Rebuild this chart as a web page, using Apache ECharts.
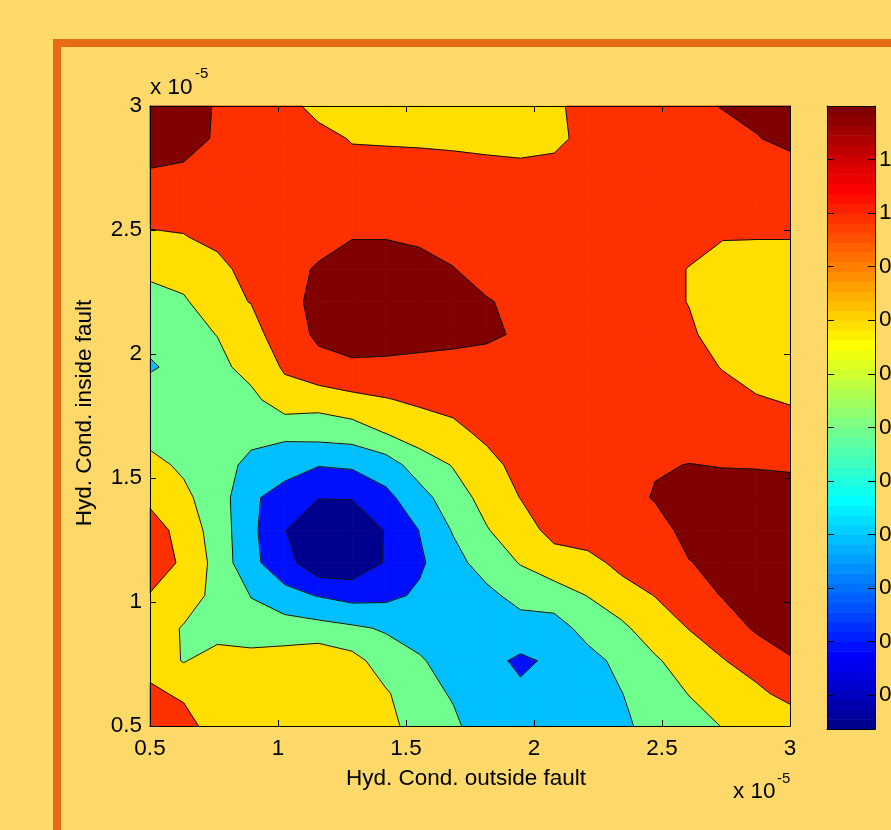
<!DOCTYPE html>
<html>
<head>
<meta charset="utf-8">
<script src="https://cdn.jsdelivr.net/npm/echarts@6/dist/echarts.min.js"></script>
<style>
html,body{margin:0;padding:0;background:#FDD96A;}
#chart{width:891px;height:830px;}
</style>
</head>
<body>
<div id="chart"></div>
<script>
// ---- data ----
// grid coordinates, in units of 1e-5
const xGrid = [0.5, 0.6316, 0.7632, 0.8947, 1.0263, 1.1579, 1.2895, 1.4211, 1.5526, 1.6842,
               1.8158, 1.9474, 2.0789, 2.2105, 2.3421, 2.4737, 2.6053, 2.7368, 2.8684, 3.0];
// rows of zGrid go from top (y = 3) to bottom (y = 0.5)
const yGrid = [3.0, 2.8684, 2.7368, 2.6053, 2.4737, 2.3421, 2.2105, 2.0789, 1.9474, 1.8158,
               1.6842, 1.5526, 1.4211, 1.2895, 1.1579, 1.0263, 0.8947, 0.7632, 0.6316, 0.5];
const zGrid = [
  [1.3, 1.3, 1.18, 1.1, 1.1, 0.9, 0.9, 0.88, 0.88, 0.88, 0.86, 0.86, 0.95, 1.1, 1.1, 1.1, 1.1, 1.22, 1.3, 1.32],
  [1.3, 1.3, 1.17, 1.1, 1.1, 1.1, 0.98, 0.97, 0.96, 0.94, 0.9, 0.88, 0.92, 1.1, 1.1, 1.1, 1.1, 1.05, 1.18, 1.3],
  [1.19, 1.16, 1.1, 1.1, 1.1, 1.1, 1.1, 1.1, 1.1, 1.1, 1.1, 1.08, 1.1, 1.1, 1.1, 1.1, 1.1, 1.1, 1.1, 1.04],
  [1.1, 1.1, 1.1, 1.12, 1.12, 1.12, 1.14, 1.14, 1.12, 1.12, 1.12, 1.12, 1.1, 1.1, 1.1, 1.1, 1.1, 1.08, 1.06, 1.06],
  [0.97, 0.99, 1.07, 1.1, 1.1, 1.1, 1.19, 1.19, 1.15, 1.1, 1.1, 1.1, 1.1, 1.1, 1.1, 1.1, 1.1, 1.01, 1.01, 1.01],
  [0.86, 0.9, 0.92, 1.1, 1.1, 1.23, 1.3, 1.3, 1.3, 1.21, 1.09, 1.1, 1.1, 1.1, 1.1, 1.1, 0.99, 0.93, 0.9, 0.9],
  [0.7, 0.77, 0.95, 1.005, 1.1, 1.28, 1.35, 1.35, 1.35, 1.3, 1.22, 1.13, 1.1, 1.1, 1.1, 1.1, 0.99, 0.9, 0.88, 0.88],
  [0.64, 0.73, 0.805, 0.92, 1.12, 1.227, 1.3, 1.3, 1.3, 1.28, 1.24, 1.17, 1.1, 1.1, 1.1, 1.1, 1.05, 0.86, 0.85, 0.86],
  [0.585, 0.64, 0.74, 0.88, 1.02, 1.15, 1.16, 1.15, 1.12, 1.1, 1.1, 1.1, 1.1, 1.1, 1.1, 1.1, 1.08, 0.99, 0.9, 0.88],
  [0.67, 0.7, 0.7, 0.74, 0.93, 0.88, 0.95, 0.99, 1.03, 1.1, 1.1, 1.1, 1.1, 1.1, 1.1, 1.1, 1.1, 1.08, 1.02, 0.98],
  [0.74, 0.72, 0.7, 0.66, 0.64, 0.68, 0.7, 0.81, 0.9, 0.92, 1.07, 1.1, 1.1, 1.1, 1.1, 1.1, 1.1, 1.1, 1.1, 1.1],
  [0.85, 0.77, 0.68, 0.55, 0.5, 0.41, 0.43, 0.5, 0.7, 0.81, 0.9, 1.1, 1.1, 1.1, 1.1, 1.18, 1.205, 1.19, 1.185, 1.17],
  [0.95, 0.84, 0.7, 0.44, 0.3, 0.205, 0.21, 0.35, 0.52, 0.72, 0.86, 1.005, 1.1, 1.1, 1.1, 1.22, 1.3, 1.3, 1.3, 1.3],
  [1.1, 0.92, 0.71, 0.45, 0.205, 0.08, 0.06, 0.21, 0.405, 0.615, 0.79, 0.9, 1.07, 1.1, 1.1, 1.1, 1.28, 1.3, 1.3, 1.3],
  [1.1, 0.97, 0.73, 0.45, 0.28, 0.05, 0.06, 0.215, 0.37, 0.53, 0.69, 0.81, 0.9, 0.94, 1.05, 1.1, 1.19, 1.27, 1.3, 1.3],
  [0.99, 0.9, 0.74, 0.595, 0.46, 0.39, 0.33, 0.35, 0.43, 0.5, 0.55, 0.67, 0.72, 0.805, 0.92, 1.005, 1.1, 1.21, 1.3, 1.3],
  [0.9, 0.785, 0.72, 0.66, 0.7, 0.67, 0.63, 0.58, 0.5, 0.5, 0.48, 0.51, 0.5, 0.685, 0.76, 0.91, 1.005, 1.1, 1.225, 1.3],
  [0.9, 0.79, 0.88, 0.89, 0.885, 0.95, 0.87, 0.7, 0.625, 0.5, 0.45, 0.37, 0.43, 0.52, 0.665, 0.775, 0.9, 0.99, 1.08, 1.18],
  [1.05, 0.955, 0.9, 0.92, 0.93, 0.95, 0.92, 0.82, 0.68, 0.58, 0.5, 0.43, 0.45, 0.48, 0.595, 0.72, 0.805, 0.9, 0.96, 1.06],
  [1.15, 1.11, 0.86, 0.9, 0.92, 0.9, 0.86, 0.88, 0.69, 0.64, 0.48, 0.45, 0.47, 0.5, 0.55, 0.69, 0.74, 0.805, 0.85, 0.88]
];
const contourLevels = [0.2, 0.4, 0.6, 0.8, 1.0, 1.2];
const bandColors = ['#00008F', '#0010FF', '#00BFFF', '#70FF8F', '#FFDF00', '#FF3000', '#800000'];
const xTickValues = [0.5, 1, 1.5, 2, 2.5, 3];
const yTickValues = [0.5, 1, 1.5, 2, 2.5, 3];
const colorbarRange = [0.037, 1.2];
const colorbarTicks = [0.1, 0.2, 0.3, 0.4, 0.5, 0.6, 0.7, 0.8, 0.9, 1.0, 1.1];
const xTitle = 'Hyd. Cond. outside fault';
const yTitle = 'Hyd. Cond. inside fault';
const exponentBase = 'x 10';
const exponentPower = '-5';

// ---- jet colormap (64 entries) for the colorbar ----
function jetColors(n) {
  const out = [];
  for (let i = 1; i <= n; i++) {
    let r, g, b;
    if (i <= 24) r = 0; else if (i <= 40) r = (i - 24) / 16; else if (i <= 56) r = 1; else r = 1 - (i - 56) / 16;
    if (i <= 8) g = 0; else if (i <= 24) g = (i - 8) / 16; else if (i <= 40) g = 1; else if (i <= 56) g = 1 - (i - 40) / 16; else g = 0;
    if (i <= 8) b = 0.5 + i / 16; else if (i <= 24) b = 1; else if (i <= 40) b = 1 - (i - 24) / 16; else b = 0;
    const h = v => Math.round(v * 255).toString(16).padStart(2, '0');
    out.push('#' + h(r) + h(g) + h(b));
  }
  return out;
}
const jet64 = jetColors(64);

// ---- contour helpers ----
function lerpPt(a, b, va, vb, L) {
  const t = (L - va) / (vb - va);
  return [a[0] + t * (b[0] - a[0]), a[1] + t * (b[1] - a[1])];
}
function clipPoly(poly, L, keepAbove) {
  const out = [];
  for (let i = 0; i < poly.length; i++) {
    const A = poly[i], B = poly[(i + 1) % poly.length];
    const ina = keepAbove ? A.v >= L : A.v <= L;
    const inb = keepAbove ? B.v >= L : B.v <= L;
    if (ina) out.push(A);
    if (ina !== inb) out.push({ p: lerpPt(A.p, B.p, A.v, B.v, L), v: L });
  }
  return out;
}
function cellCorners(c, r) {
  return [[c, r], [c + 1, r], [c + 1, r + 1], [c, r + 1]].map(([cc, rr]) => ({ p: [xGrid[cc], yGrid[rr]], v: zGrid[rr][cc] }));
}

const cells = [];
for (let r = 0; r < yGrid.length - 1; r++) {
  for (let c = 0; c < xGrid.length - 1; c++) cells.push([xGrid[c], yGrid[r], c, r]);
}

function renderFill(params, api) {
  const corners = cellCorners(api.value(2), api.value(3));
  const children = [];
  for (let b = 0; b < bandColors.length; b++) {
    let poly = corners;
    if (b > 0) poly = clipPoly(poly, contourLevels[b - 1], true);
    if (poly.length >= 3 && b < contourLevels.length) poly = clipPoly(poly, contourLevels[b], false);
    if (poly.length >= 3) {
      children.push({
        type: 'polygon',
        shape: { points: poly.map(q => api.coord(q.p)) },
        style: { fill: bandColors[b], stroke: bandColors[b], lineWidth: 0.8 }
      });
    }
  }
  return { type: 'group', children };
}

function renderLines(params, api) {
  const corners = cellCorners(api.value(2), api.value(3));
  const children = [];
  for (const L of contourLevels) {
    const pts = [];
    for (let e = 0; e < 4; e++) {
      const a = corners[e], b = corners[(e + 1) % 4];
      if ((a.v >= L) !== (b.v >= L)) pts.push(lerpPt(a.p, b.p, a.v, b.v, L));
      else pts.push(null);
    }
    const got = pts.filter(p => p);
    let segs = [];
    if (got.length === 2) segs.push(got);
    else if (got.length === 4) {
      if (corners[0].v < L) segs = [[pts[3], pts[0]], [pts[1], pts[2]]];
      else segs = [[pts[0], pts[1]], [pts[2], pts[3]]];
    }
    for (const s of segs) {
      const p1 = api.coord(s[0]), p2 = api.coord(s[1]);
      children.push({
        type: 'line',
        shape: { x1: p1[0], y1: p1[1], x2: p2[0], y2: p2[1] },
        style: { stroke: '#111', lineWidth: 1 }
      });
    }
  }
  return { type: 'group', children };
}

function renderColorbar(params, api) {
  const lo = api.value(0), hi = api.value(1);
  const n = jet64.length;
  const children = [];
  for (let i = 0; i < n; i++) {
    const v0 = lo + (hi - lo) * i / n, v1 = lo + (hi - lo) * (i + 1) / n;
    const p0 = api.coord([0, v1]), p1 = api.coord([1, v0]);
    children.push({
      type: 'rect',
      shape: { x: p0[0], y: p0[1], width: p1[0] - p0[0], height: p1[1] - p0[1] + 0.6 },
      style: { fill: jet64[i] }
    });
  }
  return { type: 'group', children };
}

const FONT = 'Liberation Sans';
const FS = 22.5;
const fmt = v => String(Math.round(v * 10) / 10);
const lineStyle = { color: '#000', width: 1 };

function mainX(position, showLabel) {
  return {
    gridIndex: 0, type: 'value', min: 0.5, max: 3, position, z: 10,
    axisLine: { show: true, lineStyle, onZero: false },
    axisTick: { show: true, inside: true, length: 6, lineStyle, customValues: xTickValues },
    axisLabel: { show: showLabel, customValues: xTickValues, formatter: fmt, color: '#000', fontSize: FS, fontFamily: FONT, margin: 11 },
    splitLine: { show: false }
  };
}
function mainY(position, showLabel) {
  return {
    gridIndex: 0, type: 'value', min: 0.5, max: 3, position, z: 10,
    axisLine: { show: true, lineStyle, onZero: false },
    axisTick: { show: true, inside: true, length: 6, lineStyle, customValues: yTickValues },
    axisLabel: { show: showLabel, customValues: yTickValues, formatter: fmt, color: '#000', fontSize: FS, fontFamily: FONT, margin: 8 },
    splitLine: { show: false }
  };
}
function cbX(position) {
  return {
    gridIndex: 1, type: 'value', min: 0, max: 1, position, z: 10,
    axisLine: { show: true, lineStyle, onZero: false },
    axisTick: { show: false }, axisLabel: { show: false }, splitLine: { show: false }
  };
}
function cbY(position, showLabel) {
  return {
    gridIndex: 1, type: 'value', min: colorbarRange[0], max: colorbarRange[1], position, z: 10,
    axisLine: { show: true, lineStyle, onZero: false },
    axisTick: { show: true, inside: true, length: 7, lineStyle, customValues: colorbarTicks },
    axisLabel: { show: showLabel, customValues: colorbarTicks, formatter: fmt, color: '#000', fontSize: FS, fontFamily: FONT, margin: 4 },
    splitLine: { show: false }
  };
}

const textStyle = (text, size, align) => ({ text, fontSize: size, fontFamily: FONT, fill: '#000', textAlign: align, textVerticalAlign: 'middle' });

const option = {
  backgroundColor: '#FDD96A',
  animation: false,
  grid: [
    { left: 150, top: 106, width: 640, height: 620, show: false, containLabel: false, outerBoundsMode: 'none' },
    { left: 827, top: 106, width: 48, height: 623, show: false, containLabel: false, outerBoundsMode: 'none' }
  ],
  xAxis: [mainX('bottom', true), mainX('top', false), cbX('bottom'), cbX('top')],
  yAxis: [mainY('left', true), mainY('right', false), cbY('right', true), cbY('left', false)],
  series: [
    { type: 'custom', xAxisIndex: 0, yAxisIndex: 0, data: cells, renderItem: renderFill, silent: true, z: 2 },
    { type: 'custom', xAxisIndex: 0, yAxisIndex: 0, data: cells, renderItem: renderLines, silent: true, z: 3 },
    { type: 'custom', xAxisIndex: 2, yAxisIndex: 2, data: [[colorbarRange[0], colorbarRange[1]]], renderItem: renderColorbar, silent: true, z: 2 }
  ],
  graphic: [
    { type: 'rect', silent: true, z: -10, shape: { x: 57, y: 43, width: 1000, height: 1000 }, style: { fill: 'none', stroke: '#E86A17', lineWidth: 8 } },
    { type: 'text', silent: true, x: 150, y: 88, style: textStyle(exponentBase, FS, 'left') },
    { type: 'text', silent: true, x: 195, y: 74, style: textStyle(exponentPower, 15, 'left') },
    { type: 'text', silent: true, x: 733, y: 792, style: textStyle(exponentBase, FS, 'left') },
    { type: 'text', silent: true, x: 777, y: 779, style: textStyle(exponentPower, 15, 'left') },
    { type: 'text', silent: true, x: 466, y: 779, style: textStyle(xTitle, FS, 'center') },
    { type: 'text', silent: true, x: 85, y: 413, rotation: Math.PI / 2, style: textStyle(yTitle, FS, 'center') }
  ]
};

const chart = echarts.init(document.getElementById('chart'), null, { renderer: 'canvas', width: 891, height: 830 });
chart.setOption(option);
</script>
</body>
</html>
